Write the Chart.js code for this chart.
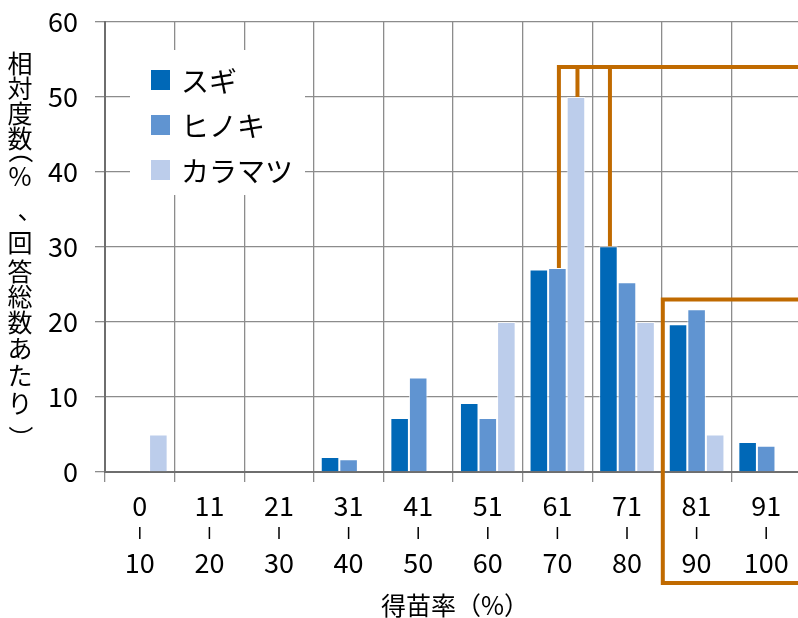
<!DOCTYPE html>
<html>
<head>
<meta charset="utf-8">
<script src="https://cdn.jsdelivr.net/npm/chart.js@4/dist/chart.umd.min.js"></script>
<style>
  html, body { margin: 0; padding: 0; background: #fff; overflow: hidden; }
  #wrap { position: relative; width: 805px; height: 618px; }
</style>
</head>
<body>
<div id="wrap"><canvas id="c"></canvas></div>
<script>
// 得苗率の階級（上段：下限、下段：上限）
const rangeStarts = ['0', '11', '21', '31', '41', '51', '61', '71', '81', '91'];
const rangeEnds   = ['10', '20', '30', '40', '50', '60', '70', '80', '90', '100'];

// 樹種別の相対度数（%）
const sugi      = [0, 0, 0, 2.0, 7.2, 9.2, 27.0, 30.1, 19.7, 4.0];
const hinoki    = [0, 0, 0, 1.7, 12.6, 7.2, 27.2, 25.3, 21.7, 3.5];
const karamatsu = [5, 0, 0, 0, 0, 20, 50, 20, 5, 0];

const seriesNames = ['スギ', 'ヒノキ', 'カラマツ'];
const yTicks = [0, 10, 20, 30, 40, 50, 60];

const yTitleChars = ['相', '対', '度', '数', '（', '%', '、', '回', '答', '総', '数', 'あ', 'た', 'り', '）'];
const xTitle = '得苗率（%）';

// 強調枠の高さ（縦軸の値）
const bracketTop = 54;
const boxTop = 23;

const FONT = "'Noto Sans CJK JP', 'Noto Sans', sans-serif";
const COLORS = ['#0068B7', '#6094D1', '#BCCDEB'];
const ORANGE = '#C06A00';

// 凡例（プロット内の白い箱）
const legendBox = {
  id: 'legendBox',
  beforeDatasetsDraw(chart) {
    const ctx = chart.ctx;
    ctx.save();
    ctx.fillStyle = '#fff';
    ctx.fillRect(130, 50, 175, 145);
    ctx.font = '28px ' + FONT;
    ctx.textBaseline = 'middle';
    ctx.textAlign = 'left';
    chart.data.datasets.forEach((ds, i) => {
      const cy = 80 + i * 45;
      ctx.fillStyle = ds.backgroundColor;
      ctx.fillRect(151, cy - 10, 19, 20);
      ctx.fillStyle = '#000';
      ctx.fillText(ds.label, 181, cy + 1);
    });
    ctx.restore();
  }
};

// 強調線（オレンジ）
const highlights = {
  id: 'highlights',
  afterDatasetsDraw(chart) {
    const ctx = chart.ctx;
    const xs = chart.scales.x, ys = chart.scales.y;
    const right = chart.width + 10;
    const bar = (d, i) => chart.getDatasetMeta(d).data[i];
    const yTop = ys.getPixelForValue(bracketTop);
    ctx.save();
    ctx.strokeStyle = ORANGE;
    ctx.lineWidth = 4;
    ctx.lineJoin = 'miter';
    ctx.lineCap = 'butt';

    const b1 = bar(1, 6), b2 = bar(2, 6), b3 = bar(0, 7);
    ctx.beginPath();
    ctx.moveTo(b1.x + 1.5, b1.y);
    ctx.lineTo(b1.x + 1.5, yTop);
    ctx.lineTo(right, yTop);
    ctx.stroke();
    [b2, b3].forEach(b => {
      ctx.beginPath();
      ctx.moveTo(b.x + 1.5, yTop);
      ctx.lineTo(b.x + 1.5, b.y);
      ctx.stroke();
    });

    const left = (xs.getPixelForTick(7) + xs.getPixelForTick(8)) / 2 + 1;
    const top = ys.getPixelForValue(boxTop);
    const bottom = xs.top + 111;
    ctx.beginPath();
    ctx.moveTo(right, top);
    ctx.lineTo(left, top);
    ctx.lineTo(left, bottom);
    ctx.lineTo(right, bottom);
    ctx.stroke();
    ctx.restore();
  }
};

// 横軸の階級ラベル、軸タイトル
const axisText = {
  id: 'axisText',
  afterDraw(chart) {
    const ctx = chart.ctx;
    const xs = chart.scales.x;
    ctx.save();
    ctx.fillStyle = '#000';
    ctx.textAlign = 'center';
    ctx.textBaseline = 'middle';
    ctx.font = '27px ' + FONT;
    rangeStarts.forEach((s, i) => {
      const x = xs.getPixelForTick(i);
      ctx.fillText(s, x, xs.top + 34);
      ctx.fillText(rangeEnds[i], x, xs.top + 91);
      ctx.fillRect(x - 0.75, xs.top + 55, 1.5, 12);
    });
    ctx.font = '25px ' + FONT;
    ctx.fillText(xTitle, (chart.chartArea.left + chart.chartArea.right) / 2 + 2, 605);

    // 縦書きの縦軸タイトル（括弧は90度回転、読点は右上へ）
    const rowY = [63, 88, 113, 138, 151, 176, 209, 242, 271, 296, 322, 348, 375, 403, 438];
    yTitleChars.forEach((ch, i) => {
      const y = rowY[i];
      if (ch === '（' || ch === '）') {
        ctx.save();
        ctx.translate(20, y);
        ctx.rotate(Math.PI / 2);
        ctx.fillText(ch, 0, 0);
        ctx.restore();
      } else if (ch === '、') {
        ctx.fillText(ch, 30, y);
      } else {
        ctx.fillText(ch, 20, y);
      }
    });
    ctx.restore();
  }
};

new Chart(document.getElementById('c'), {
  type: 'bar',
  data: {
    labels: rangeStarts.map((s, i) => s + '-' + rangeEnds[i]),
    datasets: [
      { label: seriesNames[0], data: sugi, backgroundColor: COLORS[0] },
      { label: seriesNames[1], data: hinoki, backgroundColor: COLORS[1] },
      { label: seriesNames[2], data: karamatsu, backgroundColor: COLORS[2] }
    ].map(d => Object.assign(d, {
      borderColor: 'rgba(255,255,255,0.75)',
      borderWidth: 1,
      categoryPercentage: 0.8,
      barPercentage: 1.0
    }))
  },
  options: {
    responsive: true,
    maintainAspectRatio: false,
    animation: false,
    devicePixelRatio: 1,
    layout: { padding: { top: 22, right: 4, left: 0, bottom: 0 } },
    plugins: { legend: { display: false }, tooltip: { enabled: false } },
    scales: {
      x: {
        grid: { color: '#8c8c8c', lineWidth: 1.3, tickLength: 10, offset: true, drawTicks: true },
        border: { color: '#6e6e6e', width: 2 },
        ticks: { display: false },
        afterFit(s) { s.height = 146; s.paddingLeft = 0; s.paddingRight = 0; }
      },
      y: {
        min: 0,
        max: 60,
        afterBuildTicks(s) { s.ticks = yTicks.map(v => ({ value: v })); },
        grid: { color: '#8c8c8c', lineWidth: 1.3, tickLength: 10 },
        border: { color: '#6e6e6e', width: 2 },
        ticks: { color: '#000', font: { family: FONT, size: 27 }, padding: 17 },
        afterFit(s) { s.width = 105; s.paddingTop = 0; s.paddingBottom = 0; }
      }
    }
  },
  plugins: [legendBox, highlights, axisText]
});
</script>
</body>
</html>
